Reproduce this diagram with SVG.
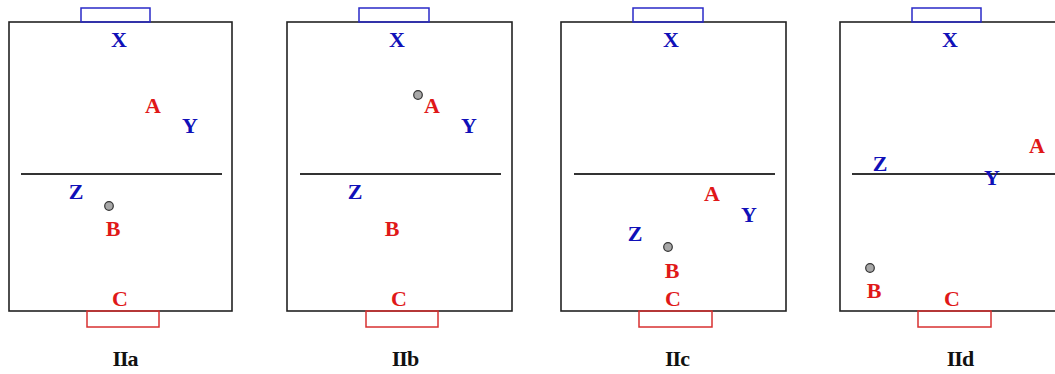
<svg xmlns="http://www.w3.org/2000/svg" width="1055" height="374" viewBox="0 0 1055 374">
<style>
.field{fill:none;stroke:#222;stroke-width:1.6}
.mid{stroke:#333;stroke-width:2}
.goalb{fill:none;stroke:#2a2ac8;stroke-width:1.5}
.goalr{fill:none;stroke:#d83030;stroke-width:1.5}
text{font-family:"Liberation Serif","Times New Roman",serif;font-weight:bold;font-size:22px;text-anchor:middle}
.b{fill:#1010b8}
.r{fill:#e01818}
.cap{fill:#111;font-size:22px;letter-spacing:-1px}
.ball{fill:#a8a8a8;stroke:#333;stroke-width:1.2}
</style>
<rect width="1055" height="374" fill="#fff"/>

<g id="panel-a">
<rect class="field" x="9" y="22" width="223" height="289"/>
<rect class="goalb" x="81" y="8" width="69" height="14"/>
<rect class="goalr" x="87" y="311" width="72" height="16"/>
<line class="mid" x1="21" y1="174" x2="222" y2="174"/>
<g id="a-X"><text class="b" x="119" y="47">X</text></g>
<g id="a-A"><text class="r" x="153" y="113">A</text></g>
<g id="a-Y"><text class="b" x="190" y="133">Y</text></g>
<g id="a-Z"><text class="b" x="76" y="199">Z</text></g>
<g id="a-ball"><circle class="ball" cx="109" cy="206" r="4.3"/></g>
<g id="a-B"><text class="r" x="113" y="236">B</text></g>
<g id="a-C"><text class="r" x="120" y="306">C</text></g>
<text class="cap" x="125" y="366">IIa</text>
</g>

<g id="panel-b">
<rect class="field" x="287" y="22" width="225" height="289"/>
<rect class="goalb" x="359" y="8" width="70" height="14"/>
<rect class="goalr" x="366" y="311" width="72" height="16"/>
<line class="mid" x1="300" y1="174" x2="501" y2="174"/>
<g id="b-X"><text class="b" x="397" y="47">X</text></g>
<g id="b-ball"><circle class="ball" cx="418" cy="95" r="4.3"/></g>
<g id="b-A"><text class="r" x="432" y="113">A</text></g>
<g id="b-Y"><text class="b" x="469" y="133">Y</text></g>
<g id="b-Z"><text class="b" x="355" y="199">Z</text></g>
<g id="b-B"><text class="r" x="392" y="236">B</text></g>
<g id="b-C"><text class="r" x="399" y="306">C</text></g>
<text class="cap" x="405" y="366">IIb</text>
</g>

<g id="panel-c">
<rect class="field" x="561" y="22" width="225" height="289"/>
<rect class="goalb" x="633" y="8" width="70" height="14"/>
<rect class="goalr" x="639" y="311" width="73" height="16"/>
<line class="mid" x1="574" y1="174" x2="775" y2="174"/>
<g id="c-X"><text class="b" x="671" y="47">X</text></g>
<g id="c-A"><text class="r" x="712" y="201">A</text></g>
<g id="c-Y"><text class="b" x="749" y="222">Y</text></g>
<g id="c-Z"><text class="b" x="635" y="241">Z</text></g>
<g id="c-ball"><circle class="ball" cx="668" cy="247" r="4.3"/></g>
<g id="c-B"><text class="r" x="672" y="278">B</text></g>
<g id="c-C"><text class="r" x="673" y="306">C</text></g>
<text class="cap" x="677" y="366">IIc</text>
</g>

<g id="panel-d">
<rect class="field" x="840" y="22" width="224" height="289"/>
<rect class="goalb" x="912" y="8" width="69" height="14"/>
<rect class="goalr" x="918" y="311" width="73" height="16"/>
<line class="mid" x1="852" y1="174" x2="1055" y2="174"/>
<g id="d-X"><text class="b" x="950" y="47">X</text></g>
<g id="d-A"><text class="r" x="1037" y="153">A</text></g>
<g id="d-Z"><text class="b" x="880" y="171">Z</text></g>
<g id="d-Y"><text class="b" x="992" y="185">Y</text></g>
<g id="d-ball"><circle class="ball" cx="870" cy="268" r="4.3"/></g>
<g id="d-B"><text class="r" x="874" y="298">B</text></g>
<g id="d-C"><text class="r" x="952" y="306">C</text></g>
<text class="cap" x="960" y="366">IId</text>
</g>
</svg>
